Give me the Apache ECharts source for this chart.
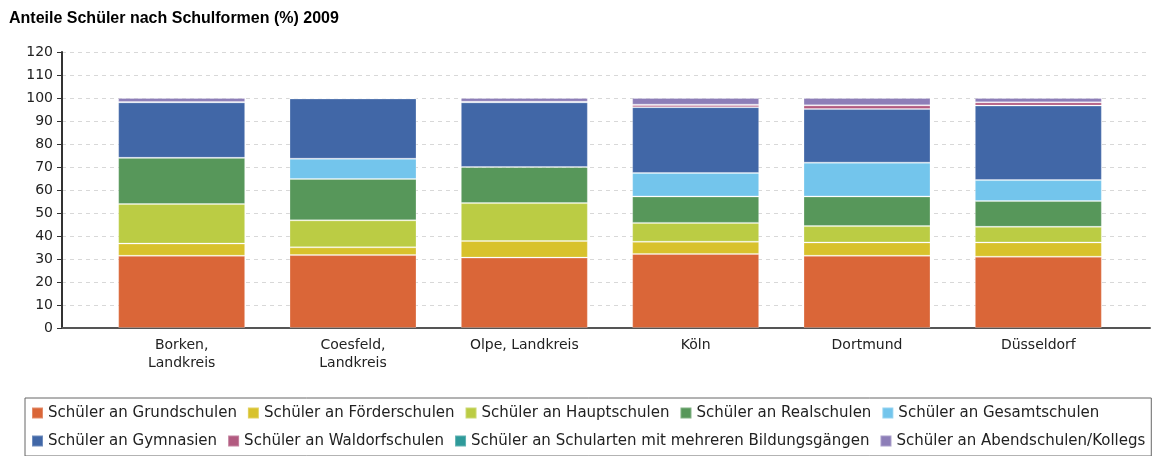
<!DOCTYPE html>
<html>
<head>
<meta charset="utf-8">
<title>Anteile Schüler nach Schulformen (%) 2009</title>
<script src="https://cdn.jsdelivr.net/npm/echarts@6/dist/echarts.min.js"></script>
<style>
  html, body { margin: 0; padding: 0; background: #fff; }
  #chart { width: 1152px; height: 456px; }
</style>
</head>
<body>
<div id="chart"></div>
<script>
// Kreise / Städte
const regions = ['Borken,\nLandkreis', 'Coesfeld,\nLandkreis', 'Olpe, Landkreis', 'Köln', 'Dortmund', 'Düsseldorf']

// Anteile in % je Schulform (von unten nach oben gestapelt)
const grundschulen   = [31.4, 31.7, 30.6, 32.2, 31.4, 31.0]
const foerderschulen = [5.3, 3.4, 7.2, 5.3, 5.8, 6.2]
const hauptschulen   = [17.2, 11.7, 16.5, 8.2, 7.1, 6.8]
const realschulen    = [20.1, 18.0, 15.7, 11.5, 12.9, 11.2]
const gesamtschulen  = [0, 8.8, 0, 10.2, 14.7, 9.1]
const gymnasien      = [24.1, 26.2, 28.1, 28.6, 23.3, 32.4]
const waldorfschulen = [0.2, 0, 0.3, 1.0, 1.6, 1.4]
const mehrere        = [0, 0, 0, 0.1, 0, 0]
const abendschulen   = [1.7, 0.2, 1.6, 2.9, 3.2, 1.9]

const yTicks = { min: 0, max: 120, interval: 10 }

const seriesDefs = [
  { name: 'Schüler an Grundschulen', data: grundschulen, color: '#DA6638' },
  { name: 'Schüler an Förderschulen', data: foerderschulen, color: '#D8C22C' },
  { name: 'Schüler an Hauptschulen', data: hauptschulen, color: '#BBCC44' },
  { name: 'Schüler an Realschulen', data: realschulen, color: '#57975A' },
  { name: 'Schüler an Gesamtschulen', data: gesamtschulen, color: '#73C5EC' },
  { name: 'Schüler an Gymnasien', data: gymnasien, color: '#4167A7' },
  { name: 'Schüler an Waldorfschulen', data: waldorfschulen, color: '#B25A80' },
  { name: 'Schüler an Schularten mit mehreren Bildungsgängen', data: mehrere, color: '#2E9A9A' },
  { name: 'Schüler an Abendschulen/Kollegs', data: abendschulen, color: '#8D7EB8' }
]

const chart = echarts.init(document.getElementById('chart'), null, { renderer: 'canvas' })

const FONT = 'DejaVu Sans'

// legend: break after the fifth item like the original
const legendData = seriesDefs.map(s => s.name)
legendData.splice(5, 0, '')

const option = {
  animation: false,
  title: {
    text: 'Anteile Schüler nach Schulformen (%) 2009',
    left: 4,
    top: 6,
    textStyle: { fontFamily: 'Liberation Sans', fontWeight: 'bold', fontSize: 16, color: '#000' }
  },
  legend: {
    data: legendData,
    left: 25,
    top: 398,
    width: 1200,
    padding: [6, 6, 6, 6],
    itemWidth: 11,
    itemHeight: 11,
    itemGap: 10,
    icon: 'rect',
    borderColor: '#666',
    borderWidth: 1,
    textStyle: { fontFamily: FONT, fontSize: 15, lineHeight: 18, color: '#222' }
  },
  grid: [
    // background grid: y axis, dashed lines, base line
    { left: 62, right: 2, top: 52, height: 276 },
    // bars
    { left: 96, right: 28, top: 52, height: 276 }
  ],
  xAxis: [
    {
      gridIndex: 0,
      type: 'value',
      min: 0,
      max: 1,
      axisLine: { show: true, lineStyle: { color: '#555', width: 2 } },
      axisTick: { show: false },
      axisLabel: { show: false },
      splitLine: { show: false }
    },
    {
      gridIndex: 1,
      type: 'category',
      data: regions,
      axisLine: { show: false },
      axisTick: { show: false },
      axisLabel: { fontFamily: FONT, fontSize: 14, color: '#222', margin: 8, lineHeight: 18, interval: 0 }
    }
  ],
  yAxis: [
    {
      gridIndex: 0,
      type: 'value',
      min: yTicks.min,
      max: yTicks.max,
      interval: yTicks.interval,
      axisLine: { show: true, lineStyle: { color: '#333', width: 2 } },
      axisTick: { show: true, length: 5, lineStyle: { color: '#333' } },
      axisLabel: { fontFamily: FONT, fontSize: 14, color: '#222', margin: 9 },
      splitLine: { show: true, lineStyle: { color: '#d8d8d8', type: [4, 4] } }
    },
    {
      gridIndex: 1,
      type: 'value',
      min: yTicks.min,
      max: yTicks.max,
      show: false
    }
  ],
  series: seriesDefs.map(s => ({
    name: s.name,
    type: 'bar',
    stack: 'total',
    xAxisIndex: 1,
    yAxisIndex: 1,
    barWidth: 127,
    data: s.data,
    itemStyle: { color: s.color, borderColor: 'rgba(255,255,255,0.25)', borderWidth: 1 }
  }))
}

chart.setOption(option)
window.addEventListener('resize', () => chart.resize())
</script>
</body>
</html>
